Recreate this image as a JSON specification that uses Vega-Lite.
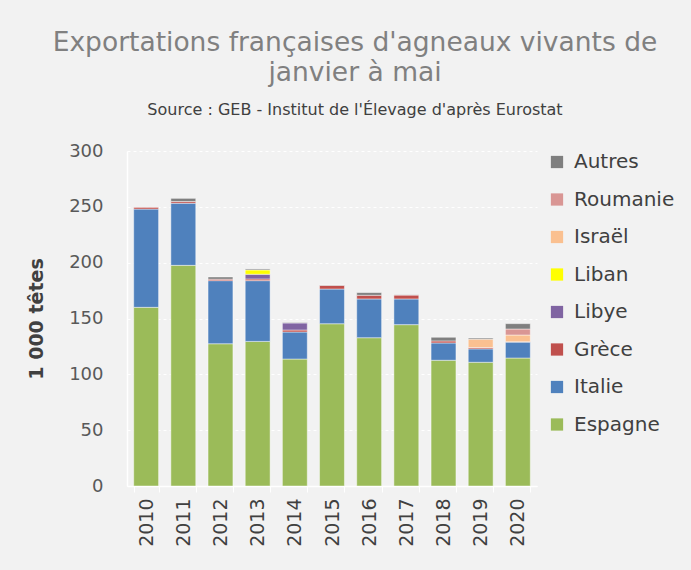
{
  "$schema": "https://vega.github.io/schema/vega-lite/v6.json",
  "autosize": {"type": "none"},
  "width": 410,
  "height": 335,
  "padding": {"left": 127, "top": 151, "right": 154, "bottom": 84},
  "background": "#f2f2f2",
  "config": {
    "view": {"stroke": null},
    "font": "DejaVu Sans"
  },
  "title": {
    "text": ["Exportations françaises d'agneaux vivants de", "janvier à mai"],
    "subtitle": "Source : GEB - Institut de l'Élevage d'après Eurostat",
    "anchor": "middle",
    "frame": "group",
    "dx": 23,
    "fontSize": 26.5,
    "fontWeight": "normal",
    "color": "#808080",
    "lineHeight": 30,
    "subtitleFontSize": 16,
    "subtitleColor": "#404040",
    "subtitlePadding": 16,
    "offset": 24
  },
  "data": {
    "values": [
      {"annee": "2010", "pays": "Espagne", "v": 160},
      {"annee": "2010", "pays": "Italie", "v": 88},
      {"annee": "2010", "pays": "Grèce", "v": 1.5},
      {"annee": "2011", "pays": "Espagne", "v": 197.6},
      {"annee": "2011", "pays": "Italie", "v": 55.7},
      {"annee": "2011", "pays": "Grèce", "v": 1.5},
      {"annee": "2011", "pays": "Autres", "v": 2.8},
      {"annee": "2012", "pays": "Espagne", "v": 127.4},
      {"annee": "2012", "pays": "Italie", "v": 56.5},
      {"annee": "2012", "pays": "Grèce", "v": 1.3},
      {"annee": "2012", "pays": "Autres", "v": 2},
      {"annee": "2013", "pays": "Espagne", "v": 129.5},
      {"annee": "2013", "pays": "Italie", "v": 54.4},
      {"annee": "2013", "pays": "Grèce", "v": 1.5},
      {"annee": "2013", "pays": "Libye", "v": 4.2},
      {"annee": "2013", "pays": "Liban", "v": 3.9},
      {"annee": "2013", "pays": "Autres", "v": 0.9},
      {"annee": "2014", "pays": "Espagne", "v": 113.7},
      {"annee": "2014", "pays": "Italie", "v": 24.2},
      {"annee": "2014", "pays": "Grèce", "v": 1.8},
      {"annee": "2014", "pays": "Libye", "v": 6.3},
      {"annee": "2014", "pays": "Autres", "v": 0.5},
      {"annee": "2015", "pays": "Espagne", "v": 145.3},
      {"annee": "2015", "pays": "Italie", "v": 31.1},
      {"annee": "2015", "pays": "Grèce", "v": 3.3},
      {"annee": "2015", "pays": "Autres", "v": 0.3},
      {"annee": "2016", "pays": "Espagne", "v": 132.8},
      {"annee": "2016", "pays": "Italie", "v": 34.7},
      {"annee": "2016", "pays": "Grèce", "v": 3.3},
      {"annee": "2016", "pays": "Autres", "v": 2.4},
      {"annee": "2017", "pays": "Espagne", "v": 144.5},
      {"annee": "2017", "pays": "Italie", "v": 23},
      {"annee": "2017", "pays": "Grèce", "v": 3.5},
      {"annee": "2017", "pays": "Autres", "v": 0.3},
      {"annee": "2018", "pays": "Espagne", "v": 112.6},
      {"annee": "2018", "pays": "Italie", "v": 15.5},
      {"annee": "2018", "pays": "Grèce", "v": 1.8},
      {"annee": "2018", "pays": "Autres", "v": 3.3},
      {"annee": "2019", "pays": "Espagne", "v": 110.8},
      {"annee": "2019", "pays": "Italie", "v": 12},
      {"annee": "2019", "pays": "Grèce", "v": 1.2},
      {"annee": "2019", "pays": "Israël", "v": 7.5},
      {"annee": "2019", "pays": "Autres", "v": 1},
      {"annee": "2020", "pays": "Espagne", "v": 114.6},
      {"annee": "2020", "pays": "Italie", "v": 14.3},
      {"annee": "2020", "pays": "Grèce", "v": 0.3},
      {"annee": "2020", "pays": "Israël", "v": 6},
      {"annee": "2020", "pays": "Roumanie", "v": 5.4},
      {"annee": "2020", "pays": "Autres", "v": 4.8}
    ]
  },
  "transform": [
    {"calculate": "indexof(['Espagne','Italie','Grèce','Libye','Liban','Israël','Roumanie','Autres'], datum.pays)", "as": "rang"}
  ],
  "mark": {"type": "bar", "stroke": "#ffffff", "strokeWidth": 1, "strokeOpacity": 0.45},
  "encoding": {
    "x": {
      "field": "annee",
      "type": "ordinal",
      "title": null,
      "scale": {"paddingInner": 0.33, "paddingOuter": 0.18},
      "axis": {
        "labelAngle": -90,
        "labelAlign": "right",
        "labelBaseline": "middle",
        "labelFontSize": 19,
        "labelColor": "#404040",
        "labelPadding": 6,
        "domainColor": "#ffffff",
        "domainWidth": 1.5,
        "tickColor": "#ffffff",
        "tickBand": "extent",
        "tickSize": 6
      }
    },
    "y": {
      "field": "v",
      "type": "quantitative",
      "stack": "zero",
      "title": "1 000 têtes",
      "scale": {"domain": [0, 300], "nice": false},
      "axis": {
        "values": [0, 50, 100, 150, 200, 250, 300],
        "labelFontSize": 18,
        "labelColor": "#595959",
        "labelPadding": 24,
        "ticks": false,
        "domainColor": "#ffffff",
        "domainWidth": 1.5,
        "gridColor": "#ffffff",
        "gridDash": [3, 3],
        "gridWidth": 1,
        "titleFontSize": 19,
        "titleFontWeight": "bold",
        "titleColor": "#404040",
        "titlePadding": 22
      }
    },
    "order": {"field": "rang", "type": "quantitative", "sort": "ascending"},
    "color": {
      "field": "pays",
      "type": "nominal",
      "scale": {
        "domain": ["Espagne", "Italie", "Grèce", "Libye", "Liban", "Israël", "Roumanie", "Autres"],
        "range": ["#9bbb59", "#4f81bd", "#c0504d", "#8064a2", "#ffff00", "#fac090", "#d99694", "#7f7f7f"]
      },
      "legend": {
        "title": null,
        "orient": "none",
        "legendX": 420,
        "legendY": 1,
        "values": ["Autres", "Roumanie", "Israël", "Liban", "Libye", "Grèce", "Italie", "Espagne"],
        "symbolType": "square",
        "symbolSize": 150,
        "symbolStrokeWidth": 0,
        "labelFontSize": 20,
        "labelColor": "#404040",
        "labelLimit": 300,
        "labelOffset": 7,
        "rowPadding": 17.5
      }
    }
  }
}
